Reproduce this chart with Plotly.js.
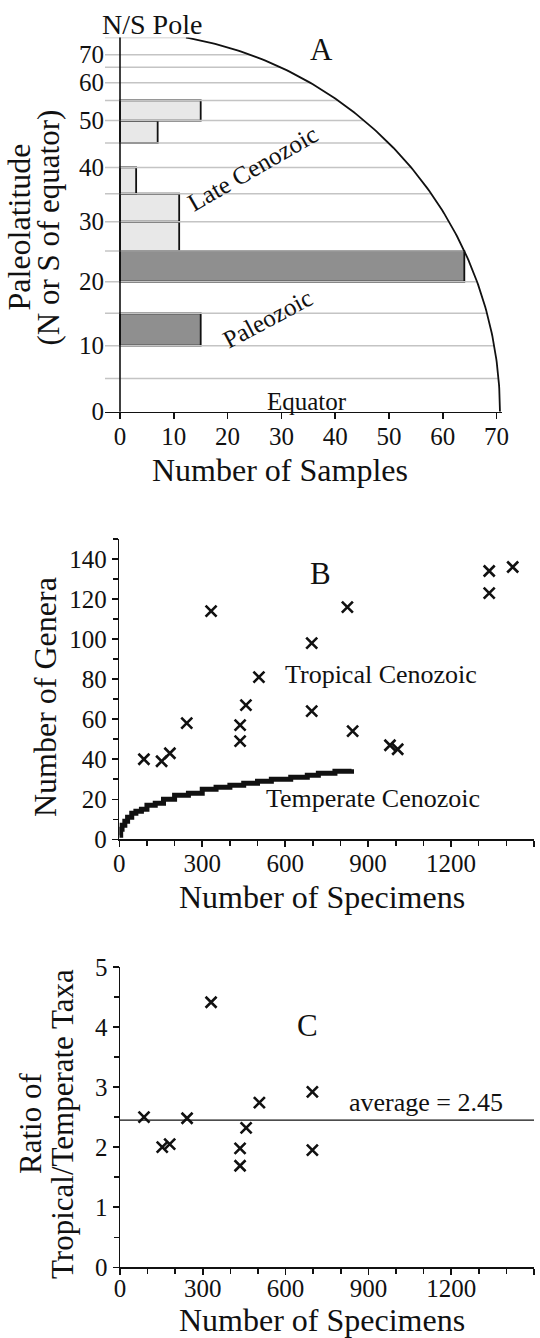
<!DOCTYPE html>
<html><head><meta charset="utf-8">
<script src="https://cdn.plot.ly/plotly-3.0.1.min.js"></script>
<style>html,body{margin:0;padding:0;background:#fff}#chart{width:540px;height:1338px}</style>
</head><body><div id="chart"></div>
<script>
// ---------- Panel A data ----------
const binSize = 5;                                   // degrees per latitude bin
const lateCenozoicBinStart = [25, 30, 35, 45, 50];   // lower edge of bin (deg)
const lateCenozoicCounts   = [11, 11, 3, 7, 15];
const paleozoicBinStart    = [10, 20];
const paleozoicCounts      = [15, 64];
const latTickVals   = [0, 10, 20, 30, 40, 50, 60, 70];
const latGridVals   = [5, 10, 15, 20, 25, 30, 35, 40, 45, 50, 55, 60, 65, 70, 80];
const latTopDeg     = 80;
const sampleTicks   = [0, 10, 20, 30, 40, 50, 60, 70];

// ---------- Panel B data ----------
const tropSpecimens = [89, 153, 183, 244, 332, 437, 437, 458, 505, 696, 696, 825, 844, 979, 1007, 1338, 1338, 1423];
const tropGenera    = [40, 39, 43, 58, 114, 49, 57, 67, 81, 98, 64, 116, 54, 47, 45, 134, 123, 136];
const tempSpecimens = [0, 5, 10, 20, 30, 45, 60, 80, 100, 130, 160, 200, 250, 300, 350, 400, 450, 500, 550, 620, 680, 720, 780, 840];
const tempGenera    = [2, 5, 7, 9, 11, 13, 14, 15, 17, 18, 20, 22, 23, 25, 26, 27, 28, 29, 30, 31, 32, 33, 34, 35];

// ---------- Panel C data ----------
const ratioSpecimens = [87, 153, 180, 243, 330, 435, 435, 457, 505, 697, 697];
const ratioValues    = [2.5, 2.0, 2.05, 2.48, 4.41, 1.98, 1.69, 2.32, 2.74, 2.92, 1.95];
const ratioAverage   = 2.45;

// ---------- helpers ----------
const W = 540, H = 1338;
const FONT = 'Liberation Serif';
const INK = '#111';
const px = x => x / W;
const py = y => 1 - y / H;
const rad = d => d * Math.PI / 180;
const s = d => Math.sin(rad(d));

// Panel A pixel geometry
const aLeft = 105, aZero = 120, aRight = 501.7, aUnit = 5.38;
const aBottom = 411.7, aTop = 37.5;
const xMinA = (aLeft - aZero) / aUnit, xMaxA = (aRight - aZero) / aUnit;
const arcR = (aBottom - aTop) / s(latTopDeg) / aUnit;   // circle radius in x units

// gridlines clipped at the circle
const gx = [], gy = [];
latGridVals.forEach(l => { gx.push(xMinA, arcR * Math.cos(rad(l)), null); gy.push(s(l), s(l), null); });
const arcX = [], arcY = [];
for (let t = 0; t <= latTopDeg; t += 0.5) { arcX.push(arcR * Math.cos(rad(t))); arcY.push(Math.sin(rad(t))); }

function binsToBars(starts) {
  return { y: starts.map(b => (s(b) + s(b + binSize)) / 2), w: starts.map(b => s(b + binSize) - s(b)) };
}
const lc = binsToBars(lateCenozoicBinStart);
const pz = binsToBars(paleozoicBinStart);

const traces = [
  { type: 'scatter', mode: 'lines', x: gx, y: gy, xaxis: 'x', yaxis: 'y', line: { color: '#c4c4c4', width: 1.5 }, hoverinfo: 'skip', showlegend: false },
  { type: 'bar', orientation: 'h', x: lateCenozoicCounts, y: lc.y, width: lc.w, xaxis: 'x', yaxis: 'y',
    marker: { color: '#e8e8e8', line: { color: INK, width: 1.8 } }, name: 'Late Cenozoic', showlegend: false },
  { type: 'bar', orientation: 'h', x: paleozoicCounts, y: pz.y, width: pz.w, xaxis: 'x', yaxis: 'y',
    marker: { color: '#8f8f8f', line: { color: INK, width: 1.8 } }, name: 'Paleozoic', showlegend: false },
  { type: 'scatter', mode: 'lines', x: arcX, y: arcY, xaxis: 'x', yaxis: 'y', line: { color: INK, width: 1.8 }, hoverinfo: 'skip', showlegend: false },

  { type: 'scatter', mode: 'lines', x: tempSpecimens, y: tempGenera, xaxis: 'x2', yaxis: 'y2',
    line: { color: INK, width: 5, shape: 'hv' }, name: 'Temperate Cenozoic', showlegend: false },
  { type: 'scatter', mode: 'markers', x: tropSpecimens, y: tropGenera, xaxis: 'x2', yaxis: 'y2',
    marker: { symbol: 'x-thin', size: 11, line: { color: INK, width: 2.6 } }, name: 'Tropical Cenozoic', showlegend: false },

  { type: 'scatter', mode: 'markers', x: ratioSpecimens, y: ratioValues, xaxis: 'x3', yaxis: 'y3',
    marker: { symbol: 'x-thin', size: 11, line: { color: INK, width: 2.6 } }, name: 'Ratio', showlegend: false }
];

const tickFont = { family: FONT, size: 25, color: INK };
const baseAxis = { showgrid: false, zeroline: false, linecolor: INK, linewidth: 1.5, tickcolor: INK, tickwidth: 1.5, tickfont: tickFont, fixedrange: true };

const layout = {
  width: W, height: H, margin: { l: 0, r: 0, t: 0, b: 0 },
  paper_bgcolor: '#fff', plot_bgcolor: 'rgba(0,0,0,0)',
  barmode: 'overlay', showlegend: false,
  font: { family: FONT, color: INK },
  xaxis: Object.assign({}, baseAxis, { domain: [px(aLeft), px(aRight)], range: [xMinA, xMaxA], anchor: 'y',
    showline: true, ticks: 'outside', ticklen: 6, tickmode: 'array', tickvals: sampleTicks, ticklabelstandoff: -4 }),
  yaxis: Object.assign({}, baseAxis, { domain: [py(aBottom), py(aTop)], range: [0, s(latTopDeg)], anchor: 'x',
    showline: false, ticks: '', tickmode: 'array', tickvals: latTickVals.map(s), ticktext: latTickVals.map(String) }),

  xaxis2: Object.assign({}, baseAxis, { domain: [px(119.3), px(534)], range: [0, 1500], anchor: 'y2',
    showline: true, ticks: 'outside', ticklen: 6, tick0: 0, dtick: 300, ticklabelstandoff: -5,
    minor: { dtick: 100, ticks: 'outside', ticklen: 5, tickcolor: INK, tickwidth: 1.5 } }),
  yaxis2: Object.assign({}, baseAxis, { domain: [py(839.3), py(539)], range: [0, 150], anchor: 'x2',
    showline: true, ticks: 'outside', ticklen: 6, tick0: 0, dtick: 20,
    minor: { dtick: 10, ticks: 'outside', ticklen: 5, tickcolor: INK, tickwidth: 1.5 } }),
  yaxis4: Object.assign({}, baseAxis, { overlaying: 'y2', side: 'right', anchor: 'x2', range: [0, 150],
    showline: true, ticks: 'inside', ticklen: 6, tick0: 0, dtick: 10, showticklabels: false }),

  xaxis3: Object.assign({}, baseAxis, { domain: [px(120), px(534)], range: [0, 1500], anchor: 'y3',
    showline: true, ticks: 'outside', ticklen: 6, tick0: 0, dtick: 300, ticklabelstandoff: -8,
    minor: { dtick: 100, ticks: 'outside', ticklen: 5, tickcolor: INK, tickwidth: 1.5 } }),
  yaxis3: Object.assign({}, baseAxis, { domain: [py(1267.3), py(966.8)], range: [0, 5], anchor: 'x3',
    showline: true, ticks: 'outside', ticklen: 6, tick0: 0, dtick: 1,
    minor: { dtick: 0.5, ticks: 'outside', ticklen: 5, tickcolor: INK, tickwidth: 1.5 } }),
  yaxis5: Object.assign({}, baseAxis, { overlaying: 'y3', side: 'right', anchor: 'x3', range: [0, 5],
    showline: true, ticks: 'inside', ticklen: 6, tick0: 0, dtick: 0.5, showticklabels: false }),

  shapes: [
    { type: 'line', xref: 'x', yref: 'y domain', x0: 0, x1: 0, y0: 0, y1: 1, line: { color: INK, width: 1.6 }, layer: 'above' },
    { type: 'line', xref: 'x3 domain', yref: 'y3', x0: 0, x1: 1, y0: ratioAverage, y1: ratioAverage, line: { color: INK, width: 1.2 }, layer: 'above' }
  ],
  annotations: []
};

function ann(o) { layout.annotations.push(Object.assign({ showarrow: false, xanchor: 'center', yanchor: 'middle', font: { family: FONT, size: 26, color: INK } }, o)); }
function pAnn(text, x, y, size, angle) { ann({ text, xref: 'paper', yref: 'paper', x: px(x), y: py(y), textangle: angle || 0, font: { family: FONT, size, color: INK } }); }

// Panel A texts
pAnn('N/S Pole', 152, 25, 28);
pAnn('Paleolatitude', 18, 227.5, 32, -90);
pAnn('(N or S of equator)', 48, 227.5, 31, -90);
pAnn('Number of Samples', 280, 470, 32);
ann({ text: 'A', xref: 'x', yref: 'y', x: 37.4, y: 0.954, font: { family: FONT, size: 31, color: INK } });
ann({ text: 'Late Cenozoic', xref: 'x', yref: 'y', x: 24.6, y: 0.641, textangle: -30, font: { family: FONT, size: 25, color: INK } });
ann({ text: 'Paleozoic', xref: 'x', yref: 'y', x: 27.5, y: 0.245, textangle: -28, font: { family: FONT, size: 25, color: INK } });
ann({ text: 'Equator', xref: 'x', yref: 'y', x: 34.8, y: 0.026, font: { family: FONT, size: 25, color: INK } });

// Panel B texts
pAnn('Number of Genera', 45, 697, 32, -90);
pAnn('Number of Specimens', 322, 897, 32);
ann({ text: 'B', xref: 'x2', yref: 'y2', x: 726, y: 132.6, font: { family: FONT, size: 31, color: INK } });
ann({ text: 'Tropical Cenozoic', xref: 'x2', yref: 'y2', x: 946, y: 82.5 });
ann({ text: 'Temperate Cenozoic', xref: 'x2', yref: 'y2', x: 916, y: 20.5 });

// Panel C texts
pAnn('Ratio of', 30, 1124, 31, -90);
pAnn('Tropical/Temperate Taxa', 62, 1124, 31, -90);
pAnn('Number of Specimens', 322, 1320, 32);
ann({ text: 'C', xref: 'x3', yref: 'y3', x: 681, y: 4.03, font: { family: FONT, size: 31, color: INK } });
ann({ text: 'average = ' + ratioAverage.toFixed(2), xref: 'x3', yref: 'y3', x: 1107, y: 2.74 });

Plotly.newPlot('chart', traces, layout, { staticPlot: true, displayModeBar: false });
</script>
</body></html>
